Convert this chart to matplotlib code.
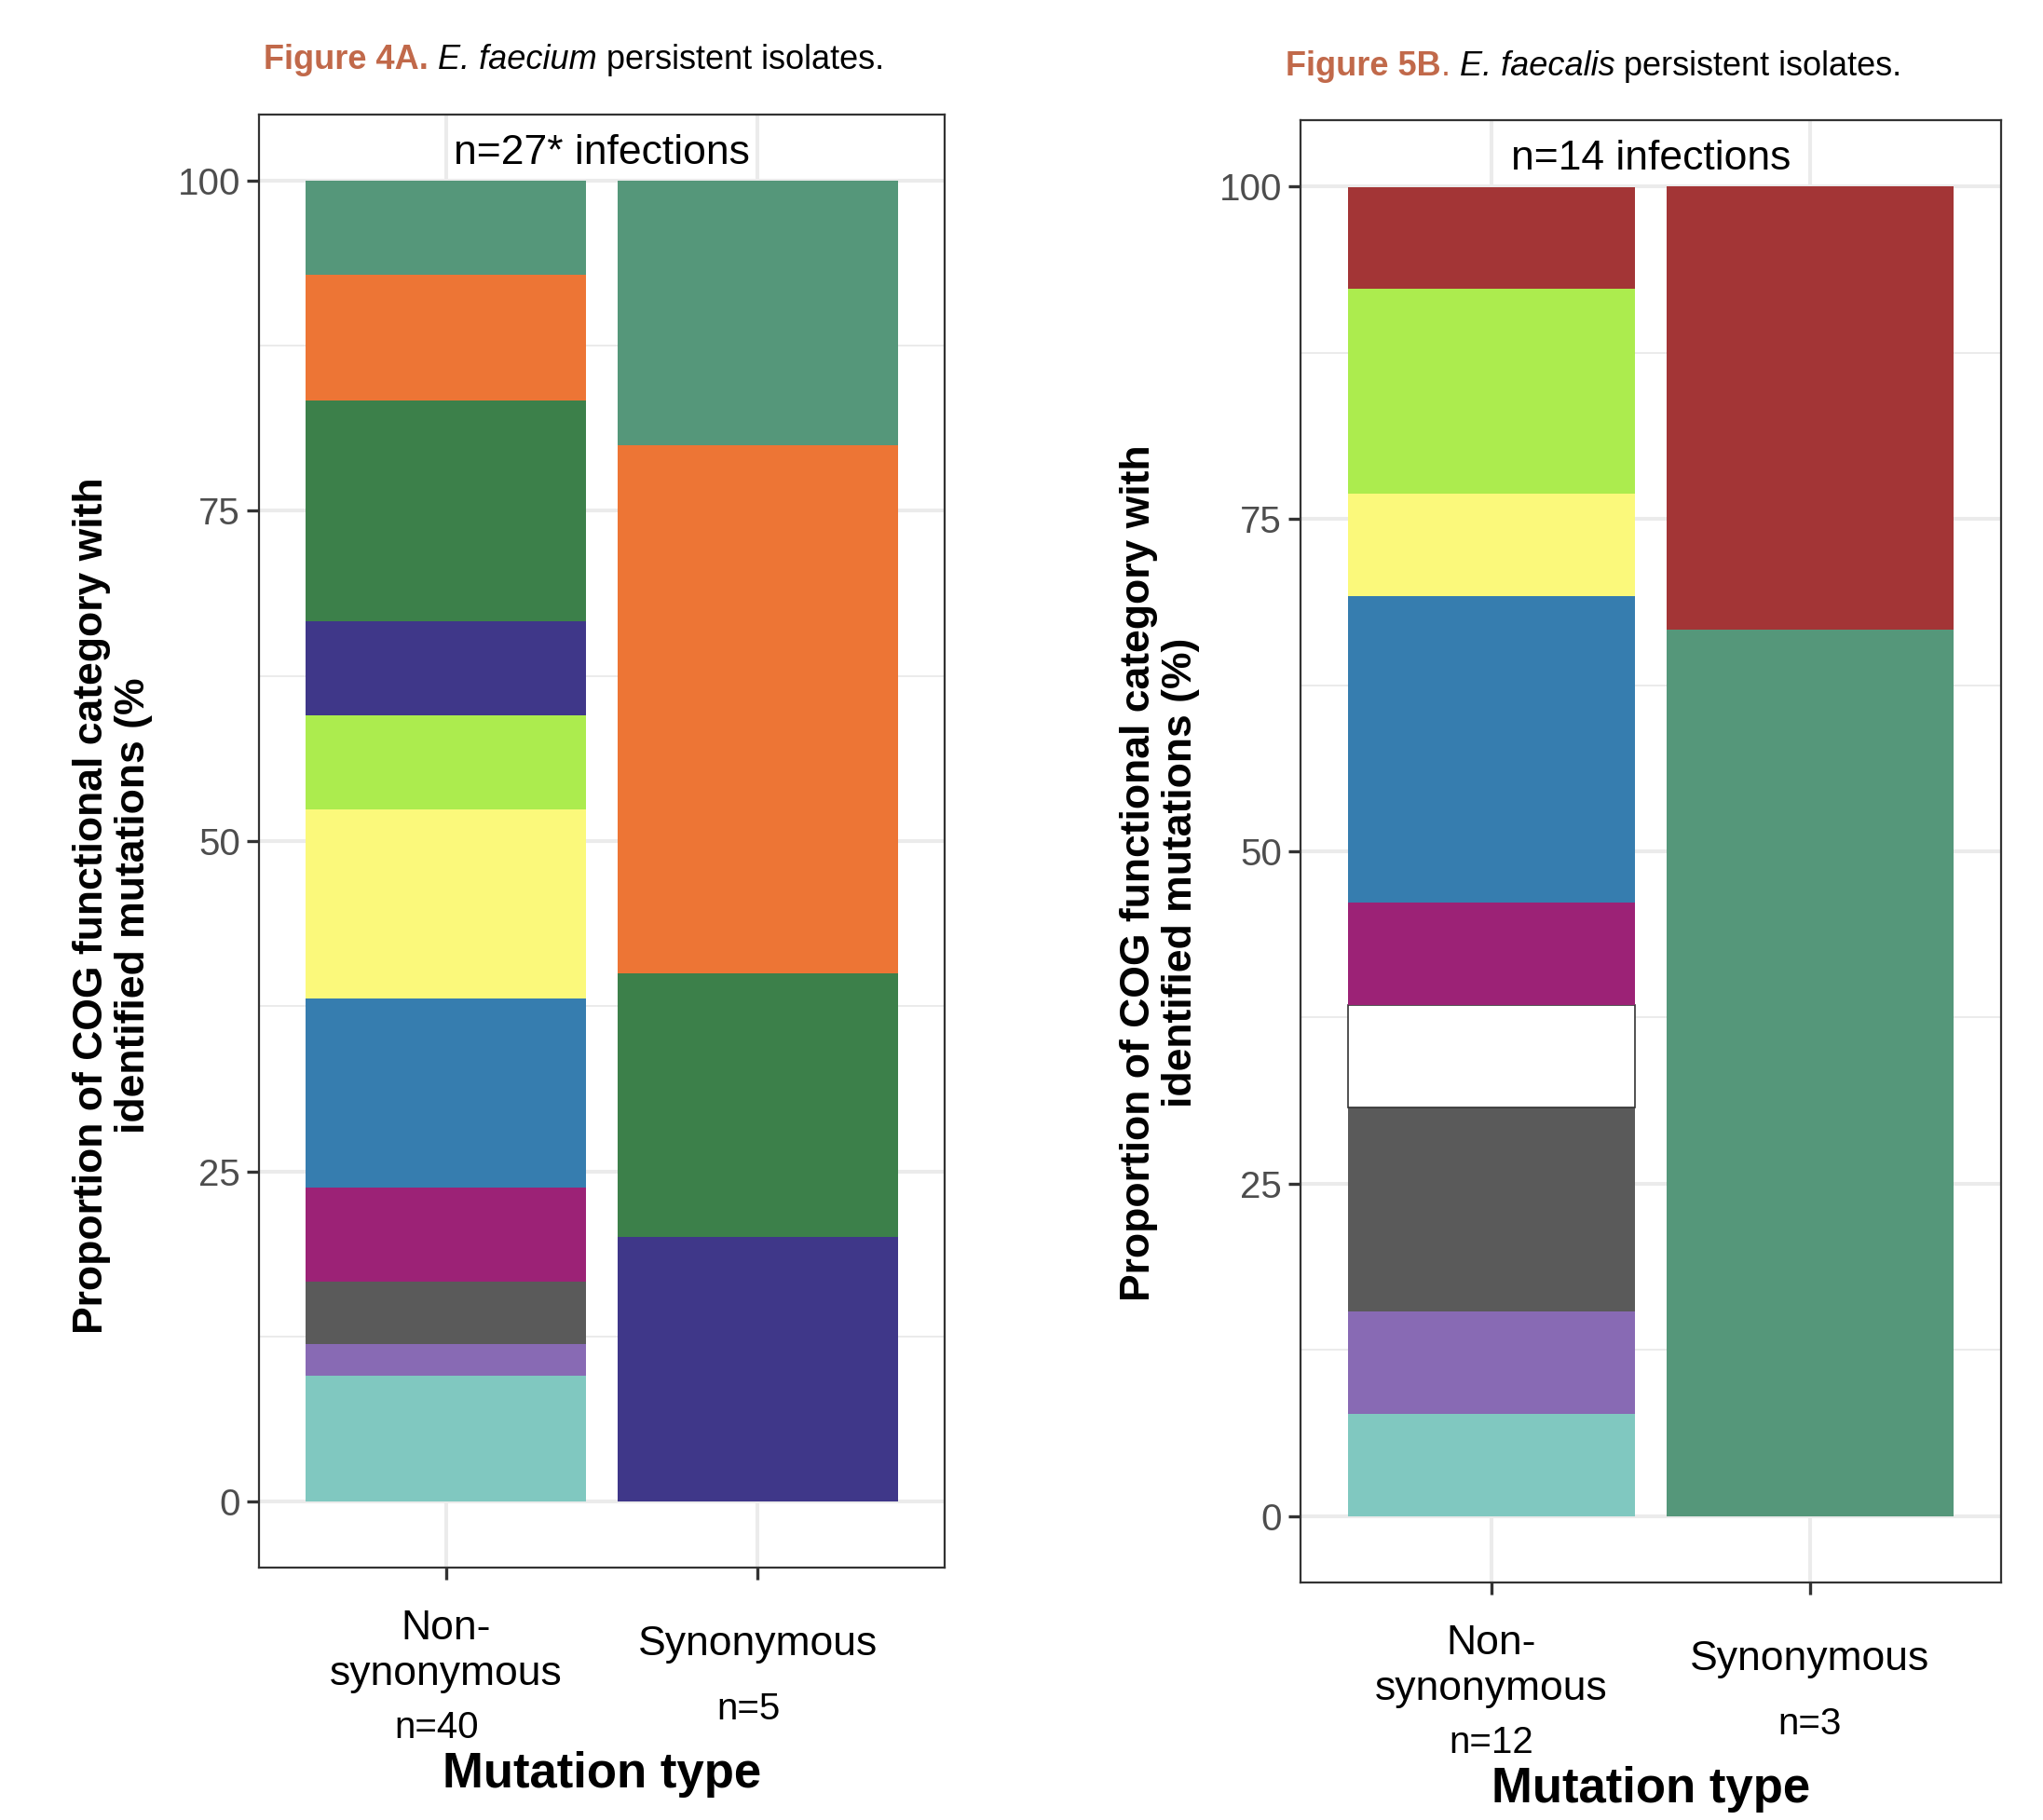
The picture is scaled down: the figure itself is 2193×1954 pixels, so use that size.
import matplotlib
matplotlib.use("Agg")
import matplotlib.pyplot as plt
from matplotlib.transforms import offset_copy
import numpy as np

plt.rcParams['font.family'] = ['Liberation Sans', 'DejaVu Sans']

# COG functional category colours, stacked bottom -> top
cog_colors = ['#80C8C0', '#886AB4', '#5A5A5A', '#FFFFFF', '#9C2276', '#367DAF',
              '#FBF97B', '#ACEC4E', '#3F3789', '#3C804A', '#ED7535', '#55977A',
              '#A33536']

mutation_types = ['Non-\nsynonymous', 'Synonymous']

# E. faecium (percent of mutations per category)
faecium_nonsyn = [9.52, 2.38, 4.76, 0, 7.14, 14.29, 14.29, 7.14, 7.14, 16.67, 9.52, 7.14, 0]
faecium_syn = [0, 0, 0, 0, 0, 0, 0, 0, 20, 20, 40, 20, 0]
faecium_counts = ['n=40', 'n=5']
faecium_infections = 'n=27* infections'

# E. faecalis
faecalis_nonsyn = [7.69, 7.69, 15.38, 7.69, 7.69, 23.08, 7.69, 15.38, 0, 0, 0, 0, 7.69]
faecalis_syn = [0, 0, 0, 0, 0, 0, 0, 0, 0, 0, 0, 66.67, 33.33]
faecalis_counts = ['n=12', 'n=3']
faecalis_infections = 'n=14 infections'

W, H = 2193, 1954
fig = plt.figure(figsize=(W / 100, H / 100), dpi=100)
fig.patch.set_facecolor('white')


def px_rect(x0, y0, x1, y1):
    return [x0 / W, 1 - y1 / H, (x1 - x0) / W, (y1 - y0) / H]


def draw_panel(rect, stacks, counts, infections, ylab, ylab_xy, n_shift=0):
    ax = fig.add_axes(rect)
    xs = np.arange(1, len(stacks) + 1)
    for xi, vals in zip(xs, stacks):
        bottom = 0
        for v, c in zip(vals, cog_colors):
            if v == 0:
                continue
            edge = '#333333' if c == '#FFFFFF' else c
            lw = 1.2 if c == '#FFFFFF' else 0
            ax.bar(xi, v, bottom=bottom, width=0.9, color=c, edgecolor=edge,
                   linewidth=lw, zorder=3)
            bottom += v

    ax.set_xlim(0.4, 2.6)
    ax.set_ylim(-5, 105)
    ax.set_yticks([0, 25, 50, 75, 100])
    ax.set_yticks([12.5, 37.5, 62.5, 87.5], minor=True)
    ax.set_xticks(xs)
    ax.set_xticklabels([])
    ax.set_axisbelow(True)
    ax.grid(which='major', color='#EBEBEB', linewidth=2.9, zorder=0)
    ax.grid(which='minor', axis='y', color='#EBEBEB', linewidth=1.4, zorder=0)
    ax.tick_params(axis='y', which='minor', length=0)
    ax.tick_params(which='major', length=9.4, width=2.4, color='#333333',
                   labelsize=29, labelcolor='#4D4D4D', pad=5)
    for s in ax.spines.values():
        s.set_color('#333333')
        s.set_linewidth(1.6)

    ax.text(1.5, 102.1, infections, ha='center', va='center', fontsize=32)

    # category labels and counts under the axis
    for xi, name, n in zip(xs, mutation_types, counts):
        multi = '\n' in name
        tr = offset_copy(ax.get_xaxis_transform(), fig=fig, y=-90 if multi else -83, units='dots')
        ax.text(xi, 0, name, transform=tr, ha='center', va='center',
                fontsize=32, linespacing=1.25, multialignment='center')
        tr = offset_copy(ax.get_xaxis_transform(), fig=fig, x=n_shift,
                         y=-172 if multi else -152, units='dots')
        ax.text(xi, 0, n, transform=tr, ha='center', va='center', fontsize=29)

    tr = offset_copy(ax.transAxes, fig=fig, y=-222, units='dots')
    ax.text(0.5, 0, 'Mutation type', transform=tr, ha='center', va='center',
            fontsize=38, fontweight='bold')

    fig.text(ylab_xy[0] / W, 1 - ylab_xy[1] / H, ylab, rotation=90,
             ha='center', va='center', fontsize=32, fontweight='bold',
             linespacing=1.1, multialignment='center')
    return ax


def rich_title(x_px, y_px, parts, size=26):
    renderer = fig.canvas.get_renderer()
    gap = 0.278 * size * 100 / 72
    x = x_px
    for txt, kw in parts:
        t = fig.text(x / W, 1 - y_px / H, txt, ha='left', va='baseline', fontsize=size, **kw)
        x += t.get_window_extent(renderer).width + gap
    return x


title_col = '#C1694A'

draw_panel(px_rect(278, 123, 1014, 1683), [faecium_nonsyn, faecium_syn],
           faecium_counts, faecium_infections,
           'Proportion of COG functional category with\nidentified mutations (%',
           (121, 972), n_shift=-10)
draw_panel(px_rect(1396, 129, 2148, 1699), [faecalis_nonsyn, faecalis_syn],
           faecalis_counts, faecalis_infections,
           'Proportion of COG functional category with\nidentified mutations (%)',
           (1245, 937))


def title_parts(fig_label, species):
    return [
        (fig_label, dict(color=title_col, fontweight='bold')),
        (species, dict(style='italic', color='black')),
        ('persistent isolates.', dict(color='black')),
    ]


rich_title(283, 74, title_parts('Figure 4A.', 'E. faecium'))

# second title: bold label, plain full stop
renderer = fig.canvas.get_renderer()
t = fig.text(1380 / W, 1 - 81 / H, 'Figure 5B', ha='left', va='baseline',
             fontsize=26, color=title_col, fontweight='bold')
x_end = 1380 + t.get_window_extent(renderer).width
rich_title(x_end, 81, [('.', dict(color=title_col)),
                       ('E. faecalis', dict(style='italic', color='black')),
                       ('persistent isolates.', dict(color='black'))])

fig.savefig('out.png', dpi=100, facecolor='white')
